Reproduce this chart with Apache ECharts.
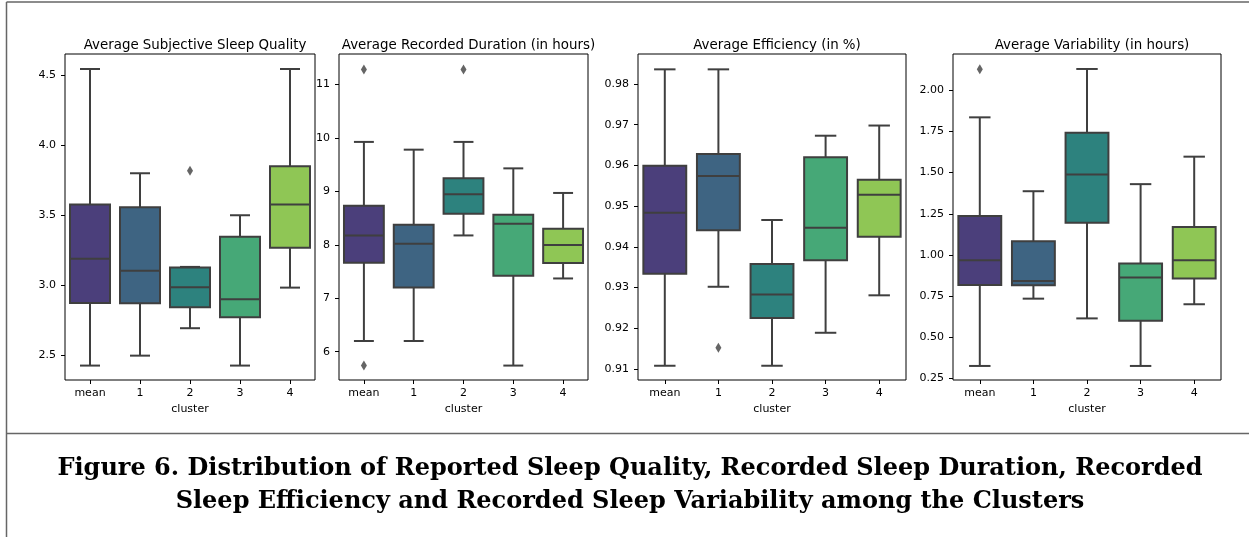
<!DOCTYPE html>
<html>
<head>
<meta charset="utf-8">
<script src="https://cdn.jsdelivr.net/npm/echarts@6/dist/echarts.min.js"></script>
<style>
  html, body { margin: 0; padding: 0; background: #fff; }
  #chart { width: 1249px; height: 537px; }
</style>
</head>
<body>
<div id="chart"></div>
<script>
const categories = ['mean', '1', '2', '3', '4'];
const boxColors = ['#4b3f7b', '#3e6482', '#2d827e', '#46a877', '#8fc655'];
const EDGE = '#3f3f3f';
const FONT = "'DejaVu Sans', sans-serif";

// [min, q1, median, q3, max] per category
const qualityBoxes = [
  [2.424, 2.871, 3.188, 3.574, 4.543],
  [2.495, 2.869, 3.102, 3.555, 3.798],
  [2.691, 2.841, 2.983, 3.124, 3.129],
  [2.424, 2.769, 2.898, 3.345, 3.498],
  [2.981, 3.266, 3.574, 3.848, 4.543]
];
const qualityOutliers = [[2, 3.816]];
const qualityTicks = [2.5, 3.0, 3.5, 4.0, 4.5];

const durationBoxes = [
  [6.20, 7.664, 8.175, 8.73, 9.925],
  [6.20, 7.20, 8.02, 8.374, 9.78],
  [8.175, 8.583, 8.944, 9.243, 9.925],
  [5.74, 7.42, 8.393, 8.56, 9.43],
  [7.37, 7.66, 7.995, 8.30, 8.97]
];
const durationOutliers = [[0, 11.28], [0, 5.74], [2, 11.28]];
const durationTicks = [6, 7, 8, 9, 10, 11];

const efficiencyBoxes = [
  [0.9108, 0.9334, 0.9484, 0.9599, 0.9836],
  [0.9302, 0.9441, 0.9574, 0.9628, 0.9836],
  [0.9108, 0.9225, 0.9283, 0.9358, 0.9466],
  [0.9189, 0.9367, 0.9447, 0.9620, 0.9673],
  [0.9281, 0.9425, 0.9528, 0.9565, 0.9698]
];
const efficiencyOutliers = [[1, 0.9152]];
const efficiencyTicks = [0.91, 0.92, 0.93, 0.94, 0.95, 0.96, 0.97, 0.98];

const variabilityBoxes = [
  [0.325, 0.817, 0.968, 1.236, 1.836],
  [0.734, 0.816, 0.842, 1.083, 1.387],
  [0.614, 1.195, 1.488, 1.742, 2.13],
  [0.325, 0.600, 0.862, 0.948, 1.43],
  [0.700, 0.856, 0.968, 1.170, 1.597]
];
const variabilityOutliers = [[0, 2.128]];
const variabilityTicks = [0.25, 0.50, 0.75, 1.00, 1.25, 1.50, 1.75, 2.00];

const panels = [
  { title: 'Average Subjective Sleep Quality', boxes: qualityBoxes, outliers: qualityOutliers, ticks: qualityTicks, min: 2.321, max: 4.65, digits: 1, left: 65, width: 250 },
  { title: 'Average Recorded Duration (in hours)', boxes: durationBoxes, outliers: durationOutliers, ticks: durationTicks, min: 5.47, max: 11.57, digits: 0, left: 339, width: 249 },
  { title: 'Average Efficiency (in %)', boxes: efficiencyBoxes, outliers: efficiencyOutliers, ticks: efficiencyTicks, min: 0.9073, max: 0.98737, digits: 2, left: 638, width: 268 },
  { title: 'Average Variability (in hours)', boxes: variabilityBoxes, outliers: variabilityOutliers, ticks: variabilityTicks, min: 0.2396, max: 2.221, digits: 2, left: 953, width: 268 }
];

function renderBox(params, api) {
  const x = api.value(0);
  const lo = api.coord([x, api.value(1)]);
  const q1 = api.coord([x, api.value(2)]);
  const med = api.coord([x, api.value(3)]);
  const q3 = api.coord([x, api.value(4)]);
  const hi = api.coord([x, api.value(5)]);
  const band = api.size([1, 0])[0];
  const w = band * 0.8;
  const cap = w / 4;
  const cx = lo[0];
  const ls = { stroke: EDGE, lineWidth: 2 };
  return {
    type: 'group',
    children: [
      { type: 'line', shape: { x1: cx, y1: q1[1], x2: cx, y2: lo[1] }, style: ls },
      { type: 'line', shape: { x1: cx, y1: q3[1], x2: cx, y2: hi[1] }, style: ls },
      { type: 'line', shape: { x1: cx - cap, y1: lo[1], x2: cx + cap, y2: lo[1] }, style: ls },
      { type: 'line', shape: { x1: cx - cap, y1: hi[1], x2: cx + cap, y2: hi[1] }, style: ls },
      { type: 'rect', shape: { x: cx - w / 2, y: q3[1], width: w, height: q1[1] - q3[1] }, style: { fill: boxColors[params.dataIndex], stroke: EDGE, lineWidth: 2 } },
      { type: 'line', shape: { x1: cx - w / 2, y1: med[1], x2: cx + w / 2, y2: med[1] }, style: ls }
    ]
  };
}

const CAPTION_FONT = "bold 24px 'DejaVu Serif', serif";

const option = {
  animation: false,
  textStyle: { fontFamily: FONT },
  title: [],
  grid: [],
  xAxis: [],
  yAxis: [],
  series: [],
  graphic: [
    { type: 'line', shape: { x1: 6.5, y1: 2, x2: 1249, y2: 2 }, style: { stroke: '#666', lineWidth: 1.5 } },
    { type: 'line', shape: { x1: 6.5, y1: 2, x2: 6.5, y2: 537 }, style: { stroke: '#666', lineWidth: 1.5 } },
    { type: 'line', shape: { x1: 6.5, y1: 433.5, x2: 1249, y2: 433.5 }, style: { stroke: '#666', lineWidth: 1.5 } },
    { type: 'text', x: 630, y: 469, style: { text: 'Figure 6. Distribution of Reported Sleep Quality, Recorded Sleep Duration, Recorded', font: CAPTION_FONT, fill: '#000', align: 'center', verticalAlign: 'middle' } },
    { type: 'text', x: 630, y: 502, style: { text: 'Sleep Efficiency and Recorded Sleep Variability among the Clusters', font: CAPTION_FONT, fill: '#000', align: 'center', verticalAlign: 'middle' } }
  ]
};

panels.forEach((p, i) => {
  option.title.push({
    text: p.title, left: p.left + p.width / 2, top: 34, textAlign: 'center',
    textStyle: { fontFamily: FONT, fontSize: 13.4, fontWeight: 'normal', color: '#000' }
  });
  option.grid.push({ left: p.left, top: 54, width: p.width, height: 326, show: true, borderColor: '#000', borderWidth: 1, backgroundColor: 'transparent' });
  option.xAxis.push({
    type: 'category', gridIndex: i, data: categories, boundaryGap: true,
    name: 'cluster', nameLocation: 'middle', nameGap: 24,
    nameTextStyle: { fontFamily: FONT, fontSize: 11, color: '#000' },
    axisLine: { show: false },
    axisTick: { show: true, alignWithLabel: true, length: 4, lineStyle: { color: '#000' } },
    axisLabel: { fontFamily: FONT, fontSize: 11, color: '#000', margin: 8 },
    splitLine: { show: false }
  });
  option.yAxis.push({
    type: 'value', gridIndex: i, min: p.min, max: p.max,
    axisLine: { show: false },
    axisTick: { show: true, length: 4, customValues: p.ticks, lineStyle: { color: '#000' } },
    axisLabel: { fontFamily: FONT, fontSize: 11, color: '#000', margin: 9, customValues: p.ticks, formatter: v => v.toFixed(p.digits) },
    splitLine: { show: false }
  });
  option.series.push({
    type: 'custom', xAxisIndex: i, yAxisIndex: i,
    renderItem: renderBox,
    encode: { x: 0, y: [1, 2, 3, 4, 5] },
    data: p.boxes.map((b, k) => [k].concat(b)),
    z: 2
  });
  option.series.push({
    type: 'scatter', xAxisIndex: i, yAxisIndex: i,
    symbol: 'diamond', symbolSize: [6, 10],
    itemStyle: { color: EDGE },
    data: p.outliers,
    z: 3
  });
});

const chart = echarts.init(document.getElementById('chart'));
chart.setOption(option);
</script>
</body>
</html>
